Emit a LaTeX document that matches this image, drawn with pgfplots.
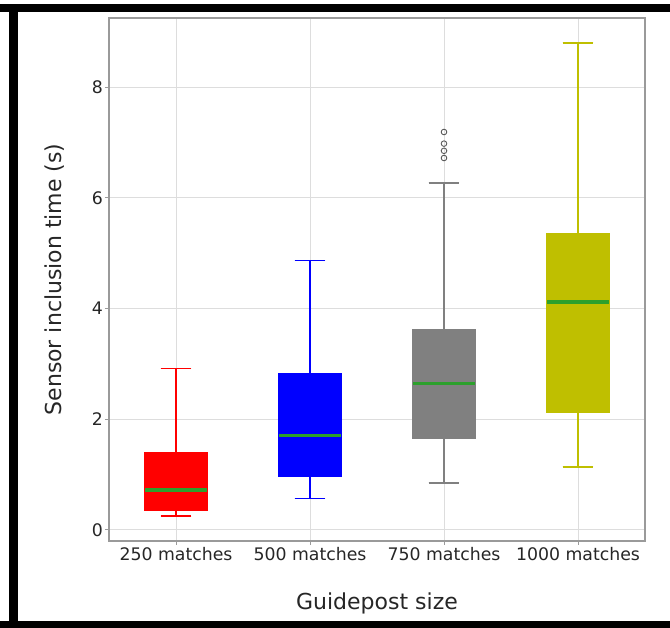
\documentclass[border=0pt]{standalone}
\usepackage{pgfplots}
\pgfplotsset{compat=1.18}
\usepgfplotslibrary{statistics}
\usepackage{fontspec}
\setmainfont{DejaVu Sans}
\definecolor{olivey}{rgb}{0.75,0.75,0}
\definecolor{boxgray}{HTML}{808080}
\definecolor{medgreen}{HTML}{2CA02C}
\definecolor{gridc}{HTML}{DDDDDD}
\definecolor{framec}{HTML}{9A9A9A}
\begin{document}
\begin{tikzpicture}
\path[use as bounding box] (0pt,0pt) rectangle (670pt,628pt);
\fill[black] (0pt,616pt) rectangle (670pt,624pt);
\fill[black] (9pt,0pt) rectangle (18pt,624pt);
\fill[black] (0pt,0pt) rectangle (670pt,7pt);
\begin{axis}[
  scale only axis, width=536pt, height=523pt,
  anchor=south west, at={(109pt,87pt)},
  xmin=0.5, xmax=4.5, ymin=-0.2, ymax=9.25,
  xtick={1,2,3,4},
  xticklabels={250 matches, 500 matches, 750 matches, 1000 matches},
  ytick={0,2,4,6,8},
  grid=major, major grid style={gridc, line width=1pt},
  axis line style={framec, line width=1.5pt},
  tick style={framec, line width=1pt}, tick align=outside, major tick length=4pt,
  xtick pos=left, ytick pos=left,
  tick label style={font=\fontsize{17.3}{20}\selectfont, text=black!85},
  xticklabel style={inner sep=2.5pt},
  yticklabel style={inner sep=2pt},
  /pgf/number format/assume math mode=true,
  xlabel={Guidepost size}, ylabel={Sensor inclusion time (s)},
  label style={font=\fontsize{22}{26}\selectfont, text=black!85},
  x label style={at={(axis description cs:0.5,-0.1319)}, anchor=base},
  y label style={at={(axis description cs:-0.0877,0.5)}, anchor=base},
  boxplot/draw direction=y,
  medstyle/.style={boxplot/every median/.style={draw=medgreen, line width=3.3pt}},
]
\addplot[boxplot prepared={lower whisker=0.25, lower quartile=0.36, median=0.72,
  upper quartile=1.39, upper whisker=2.92, draw position=1, box extend=0.46, whisker extend=0.23},
  draw=red, fill=red, line width=1.5pt, medstyle] coordinates {};
\addplot[boxplot prepared={lower whisker=0.57, lower quartile=0.97, median=1.70,
  upper quartile=2.82, upper whisker=4.87, draw position=2, box extend=0.46, whisker extend=0.23},
  draw=blue, fill=blue, line width=1.5pt, medstyle] coordinates {};
\addplot[boxplot prepared={lower whisker=0.85, lower quartile=1.66, median=2.65,
  upper quartile=3.61, upper whisker=6.27, draw position=3, box extend=0.46, whisker extend=0.23},
  draw=boxgray, fill=boxgray, line width=1.5pt, medstyle,
  mark=o, mark size=2.8pt, mark options={draw=black!65, fill=none, line width=0.9pt}]
  coordinates {(0,7.19) (0,6.98) (0,6.85) (0,6.72)};
\addplot[boxplot prepared={lower whisker=1.14, lower quartile=2.13, median=4.12,
  upper quartile=5.36, upper whisker=8.80, draw position=4, box extend=0.46, whisker extend=0.23},
  draw=olivey, fill=olivey, line width=1.5pt, medstyle] coordinates {};
\end{axis}
\end{tikzpicture}
\end{document}
